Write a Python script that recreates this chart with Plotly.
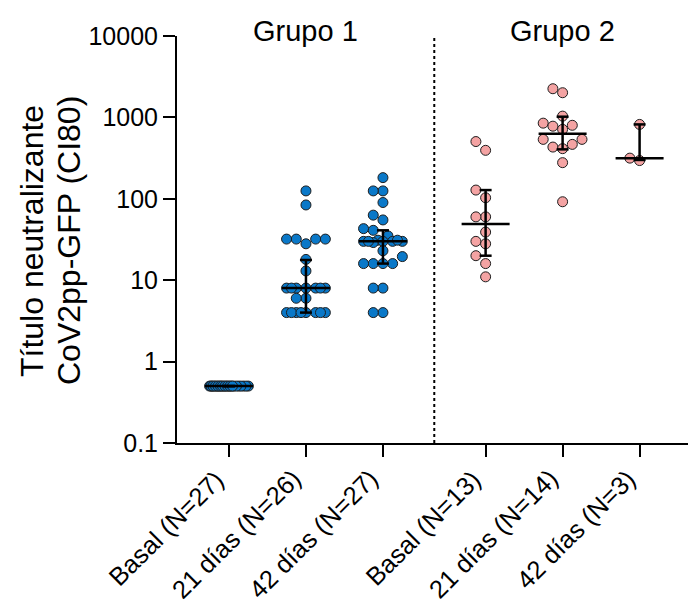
import math
import numpy as np
import plotly.graph_objects as go

# ---------------- data ----------------
categories = ["Basal (N=27)", "21 días (N=26)", "42 días (N=27)",
              "Basal (N=13)", "21 días (N=14)", "42 días (N=3)"]
group_names = ["Grupo 1", "Grupo 2"]

g1_basal = [0.5, 0.5, 0.5, 0.5, 0.5, 0.5, 0.5, 0.5, 0.5, 0.5, 0.5, 0.5, 0.5, 0.5,
            0.5, 0.5, 0.5, 0.5, 0.5, 0.5, 0.5, 0.5, 0.5, 0.5, 0.5, 0.5, 0.5]
g1_21d = [125, 84, 32, 32, 32, 32, 28, 18, 13, 8, 8, 8, 8, 8, 8, 8, 6, 6,
          4, 4, 4, 4, 4, 4, 4, 4]
g1_42d = [182, 125, 125, 90, 63, 55, 43, 41, 35, 31, 30, 30, 30, 29, 30, 30, 31,
          23, 19.5, 16, 16, 16, 16, 8, 8, 4, 4]
g2_basal = [505, 394, 128, 103, 60, 60, 39, 30, 28, 20, 16, 11]
g2_21d = [2250, 2010, 1037, 850, 800, 780, 713, 537, 537, 466, 432, 413, 278, 92]
g2_42d = [820, 316, 295]

series = [g1_basal, g1_21d, g1_42d, g2_basal, g2_21d, g2_42d]
series_group = [0, 0, 0, 1, 1, 1]

medians = [0.5, 8, 30, 49, 631, 316]
q1 = [0.5, 4, 16, 20, 405, 300]
q3 = [0.5, 17.7, 41, 128, 1020, 820]

y_tickvals = [0.1, 1, 10, 100, 1000, 10000]
y_ticktext = ["0.1", "1", "10", "100", "1000", "10000"]

# ---------------- layout constants ----------------
PAGE_OFF = 8  # browser body margin
W, H = 696 - PAGE_OFF, 608 - PAGE_OFF
ML, MR, MT, MB = 177 - PAGE_OFF, 2, 36 - PAGE_OFF, 600 - 435
X_RANGE = [-0.675, 6.04]
Y_RANGE = [-1, 4]
GAP = 1 / 3
positions = [i + (GAP if i >= 3 else 0) for i in range(len(categories))]
divider_x = (positions[2] + positions[3]) / 2

plot_w = W - ML - MR
plot_h = H - MT - MB
px_per_x = plot_w / (X_RANGE[1] - X_RANGE[0])
px_per_dec = plot_h / (Y_RANGE[1] - Y_RANGE[0])

FONT = "Arial, Liberation Sans, Helvetica, sans-serif"
colors = ["#0a78c8", "#f4a3a3"]
D = 10.0


def swarm(vals, diam=D, maxhalf=19.5):
    ys = [math.log10(v) * px_per_dec for v in vals]
    order = np.argsort(ys, kind="stable")
    placed = []
    offs = [0.0] * len(vals)
    step = diam * 0.97
    cands = [0, -step, step, -2 * step, 2 * step]
    for i in order:
        best = None
        for c in cands:
            if all(math.hypot(c - ox, ys[i] - oy) >= diam * 0.95 for ox, oy in placed):
                best = c
                break
        if best is None:
            grid = np.linspace(-maxhalf, maxhalf, 79)
            md = [min(math.hypot(g - ox, ys[i] - oy) for ox, oy in placed) for g in grid]
            best = float(grid[int(np.argmax(md))])
        offs[i] = best
        placed.append((best, ys[i]))
    return [o / px_per_x for o in offs]


fig = go.Figure()

for k, vals in enumerate(series):
    offs = swarm(vals)
    fig.add_trace(go.Scatter(
        x=[positions[k] + o for o in offs], y=vals, mode="markers",
        marker=dict(size=D, color=colors[series_group[k]],
                    line=dict(color="#1e1e1e", width=1)),
        hoverinfo="y", showlegend=False, cliponaxis=False))

# median + interquartile bars
half_med = 24 / px_per_x
half_cap = 6 / px_per_x
for k in range(len(categories)):
    p = positions[k]
    xs = [p - half_med, p + half_med, None, p, p, None,
          p - half_cap, p + half_cap, None, p - half_cap, p + half_cap]
    ys = [medians[k], medians[k], None, q1[k], q3[k], None,
          q1[k], q1[k], None, q3[k], q3[k]]
    fig.add_trace(go.Scatter(x=xs, y=ys, mode="lines",
                             line=dict(color="black", width=2.5),
                             hoverinfo="skip", showlegend=False))

fig.add_shape(type="line", xref="x", yref="paper", x0=divider_x, x1=divider_x,
              y0=0, y1=1, line=dict(color="black", width=2, dash="3px,3px"))

for g, name in enumerate(group_names):
    fig.add_annotation(x=positions[3 * g + 1], xref="x", y=1.012, yref="paper",
                       text=name, showarrow=False, yanchor="middle",
                       font=dict(family=FONT, size=29, color="black"))

# rotated category labels
for k, lab in enumerate(categories):
    fig.add_annotation(x=positions[k], xref="x", y=0, yref="paper", text=lab,
                       textangle=-45, showarrow=False, xanchor="right", yanchor="top",
                       xshift=3, yshift=-19,
                       font=dict(family=FONT, size=25.5, color="black"))

ytitle_lines = ["Título neutralizante", "CoV2pp-GFP (CI80)"]
ytitle_px = [32 - PAGE_OFF, 69 - PAGE_OFF]
for line, pxx in zip(ytitle_lines, ytitle_px):
    fig.add_annotation(x=(pxx - ML) / plot_w, xref="paper",
                       y=(H - MB - (241 - PAGE_OFF)) / plot_h,
                       yref="paper", text=line, textangle=-90, showarrow=False,
                       xanchor="center", yanchor="middle",
                       font=dict(family=FONT, size=32, color="black"))

fig.update_layout(
    width=W, height=H, margin=dict(l=ML, r=MR, t=MT, b=MB, autoexpand=False),
    paper_bgcolor="white", plot_bgcolor="white",
    font=dict(family=FONT, color="black"),
    xaxis=dict(range=X_RANGE, tickvals=positions, showticklabels=False,
               showgrid=False, zeroline=False, showline=True, linecolor="black",
               linewidth=2, ticks="outside", ticklen=12, tickwidth=2,
               tickcolor="black", automargin=False),
    yaxis=dict(type="log", range=Y_RANGE, tickvals=y_tickvals, ticktext=y_ticktext,
               tickfont=dict(size=25), showgrid=False, zeroline=False,
               showline=True, linecolor="black", linewidth=2,
               ticks="outside", ticklen=12, tickwidth=2, tickcolor="black",
               automargin=False),
)

fig.write_html("out.html")
